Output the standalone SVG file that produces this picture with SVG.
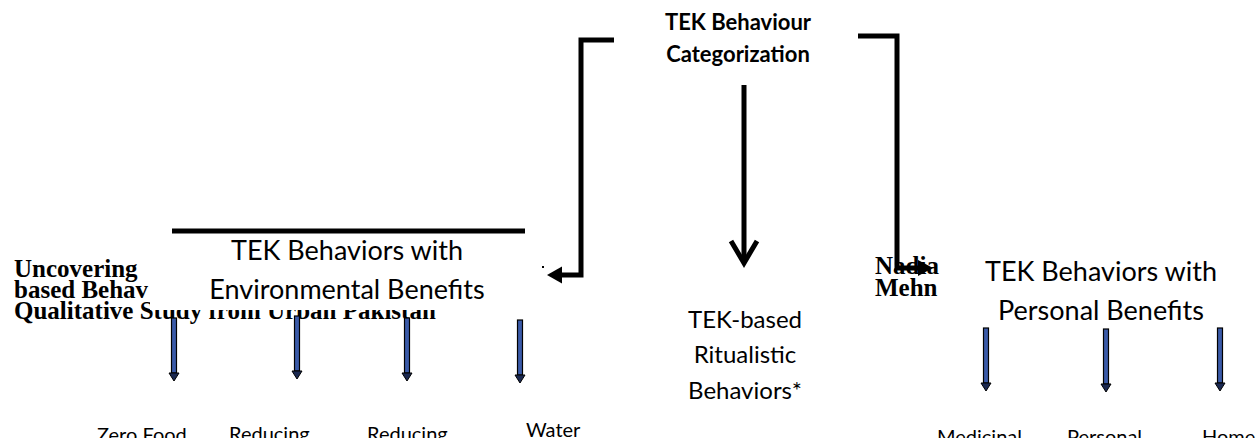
<svg xmlns="http://www.w3.org/2000/svg" width="1260" height="438" viewBox="0 0 1260 438">
<style>
.cal{font-family:Lato,"Liberation Sans",sans-serif;fill:#000}
.b{font-weight:bold}
.tnr{font-family:"Liberation Serif","Times New Roman",serif;font-weight:bold;font-size:25px;fill:#000}
.conn{fill:none;stroke:#000;stroke-width:5}
.head{fill:#000;stroke:none}
.shaft{fill:#3a5aa8;stroke:#000;stroke-width:1.2}
.bhead{fill:#1a2850;stroke:#000;stroke-width:1}
</style>
<defs>
<g id="barrow">
<rect class="shaft" x="-2.5" y="0" width="5" height="55"/>
<polygon class="bhead" points="-5,55 5,55 0,63"/>
</g>
</defs>
<rect width="1260" height="438" fill="#fff"/>

<g id="paper-title">
<text class="tnr" x="14" y="277">Uncovering</text>
<text class="tnr" x="14" y="298">based Behav</text>
<text class="tnr" x="14" y="319">Qualitative Study from Urban Pakistan</text>
</g>
<g id="authors">
<text class="tnr" x="875" y="274">Nadia</text>
<text class="tnr" x="875" y="296">Mehn</text>
</g>

<g id="node-top">
<text class="cal b" x="738" y="30" font-size="22" text-anchor="middle">TEK Behaviour</text>
<text class="cal b" x="738" y="62" font-size="22" text-anchor="middle">Categorization</text>
</g>

<g id="node-env">
<rect x="150" y="235" width="390" height="75" fill="#fff"/>
<line x1="172" y1="231" x2="525" y2="231" stroke="#000" stroke-width="5"/>
<text class="cal" x="347" y="260" font-size="27" text-anchor="middle">TEK Behaviors with</text>
<text class="cal" x="347" y="299" font-size="27" text-anchor="middle">Environmental Benefits</text>
</g>

<g id="node-rit">
<text class="cal" x="745" y="328" font-size="24" text-anchor="middle">TEK-based</text>
<text class="cal" x="745" y="363" font-size="24" text-anchor="middle">Ritualistic</text>
<text class="cal" x="745" y="399" font-size="24" text-anchor="middle">Behaviors*</text>
</g>

<g id="node-pers">
<text class="cal" x="1101" y="281" font-size="27" text-anchor="middle">TEK Behaviors with</text>
<text class="cal" x="1101" y="320" font-size="27" text-anchor="middle">Personal Benefits</text>
</g>

<g id="leaf-labels" class="cal" font-size="20">
<text id="lbl-zero-food" x="97" y="442">Zero Food</text>
<text id="lbl-reducing-1" x="229" y="441">Reducing</text>
<text id="lbl-reducing-2" x="367" y="441">Reducing</text>
<text id="lbl-water" x="526" y="437">Water</text>
<text id="lbl-medicinal" x="937" y="444">Medicinal</text>
<text id="lbl-personal" x="1067" y="444">Personal</text>
<text id="lbl-home" x="1202" y="444">Home</text>
</g>

<g id="connectors">
<path class="conn" d="M614,40 H581 V275 H560"/>
<polygon class="head" points="547,275 562,266.5 562,283.5"/>
<rect x="542" y="266" width="2" height="2" fill="#000"/>
<path class="conn" d="M858,36 H897 V268 H918"/>
<polygon class="head" points="933,268 918,260 918,276"/>
<path class="conn" d="M744,85 V262"/>
<path class="conn" d="M731,241 L744,263 L757,241" stroke-linejoin="miter"/>
<use href="#barrow" x="174" y="318"/>
<use href="#barrow" x="297" y="316"/>
<use href="#barrow" x="407" y="318"/>
<use href="#barrow" x="520" y="320"/>
<use href="#barrow" x="986" y="328"/>
<use href="#barrow" x="1106" y="329"/>
<use href="#barrow" x="1220" y="328"/>
</g>
</svg>
